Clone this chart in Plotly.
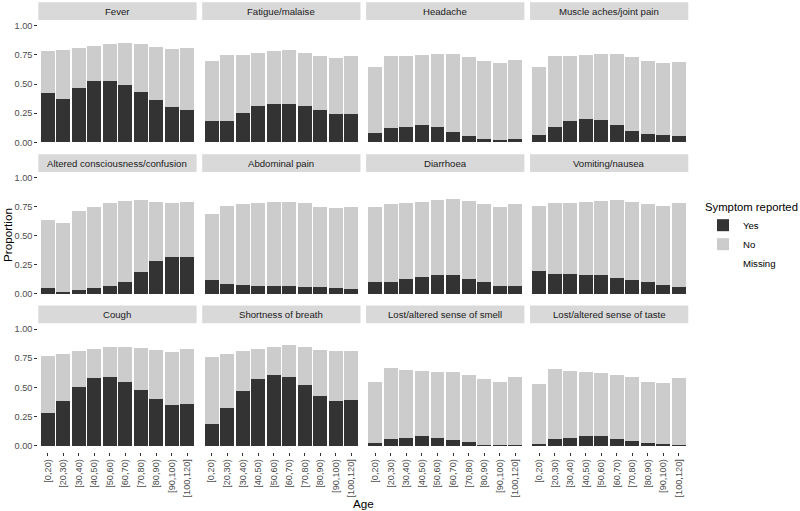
import plotly.graph_objects as go

ages = ["[0,20)", "[20,30)", "[30,40)", "[40,50)", "[50,60)", "[60,70)",
        "[70,80)", "[80,90)", "[90,100)", "[100,120]"]

symptoms = ["Fever", "Fatigue/malaise", "Headache", "Muscle aches/joint pain",
            "Altered consciousness/confusion", "Abdominal pain", "Diarrhoea", "Vomiting/nausea",
            "Cough", "Shortness of breath", "Lost/altered sense of smell", "Lost/altered sense of taste"]

fever_yes = [0.42, 0.37, 0.47, 0.53, 0.53, 0.49, 0.43, 0.36, 0.30, 0.28]
fever_no = [0.36, 0.42, 0.34, 0.30, 0.31, 0.36, 0.41, 0.46, 0.50, 0.53]
fatigue_yes = [0.18, 0.18, 0.25, 0.31, 0.33, 0.33, 0.31, 0.28, 0.24, 0.24]
fatigue_no = [0.52, 0.57, 0.50, 0.46, 0.45, 0.46, 0.46, 0.46, 0.48, 0.50]
headache_yes = [0.08, 0.12, 0.13, 0.15, 0.13, 0.09, 0.05, 0.03, 0.02, 0.03]
headache_no = [0.57, 0.62, 0.61, 0.60, 0.63, 0.67, 0.68, 0.67, 0.66, 0.68]
muscle_yes = [0.06, 0.13, 0.18, 0.20, 0.19, 0.15, 0.10, 0.07, 0.06, 0.05]
muscle_no = [0.59, 0.61, 0.56, 0.55, 0.57, 0.61, 0.63, 0.63, 0.62, 0.64]
confusion_yes = [0.05, 0.02, 0.03, 0.05, 0.07, 0.10, 0.19, 0.28, 0.32, 0.32]
confusion_no = [0.59, 0.59, 0.68, 0.70, 0.71, 0.70, 0.62, 0.51, 0.46, 0.47]
abdominal_yes = [0.12, 0.09, 0.08, 0.07, 0.07, 0.07, 0.06, 0.06, 0.05, 0.04]
abdominal_no = [0.57, 0.67, 0.69, 0.71, 0.72, 0.72, 0.72, 0.69, 0.69, 0.71]
diarrhoea_yes = [0.10, 0.10, 0.13, 0.15, 0.16, 0.16, 0.13, 0.10, 0.07, 0.07]
diarrhoea_no = [0.65, 0.67, 0.65, 0.64, 0.65, 0.66, 0.67, 0.67, 0.68, 0.70]
vomiting_yes = [0.20, 0.17, 0.17, 0.16, 0.16, 0.14, 0.12, 0.10, 0.08, 0.06]
vomiting_no = [0.56, 0.61, 0.61, 0.63, 0.64, 0.67, 0.67, 0.67, 0.68, 0.72]
cough_yes = [0.28, 0.38, 0.50, 0.58, 0.59, 0.55, 0.48, 0.40, 0.35, 0.36]
cough_no = [0.49, 0.41, 0.31, 0.25, 0.26, 0.30, 0.36, 0.42, 0.45, 0.47]
breath_yes = [0.19, 0.32, 0.47, 0.57, 0.61, 0.59, 0.52, 0.43, 0.38, 0.39]
breath_no = [0.57, 0.47, 0.34, 0.26, 0.24, 0.27, 0.33, 0.39, 0.43, 0.42]
smell_yes = [0.02, 0.06, 0.07, 0.08, 0.07, 0.05, 0.03, 0.01, 0.006, 0.003]
smell_no = [0.53, 0.61, 0.58, 0.56, 0.56, 0.58, 0.58, 0.56, 0.544, 0.587]
taste_yes = [0.014, 0.06, 0.07, 0.08, 0.08, 0.06, 0.04, 0.02, 0.014, 0.006]
taste_no = [0.516, 0.60, 0.57, 0.55, 0.54, 0.55, 0.55, 0.53, 0.526, 0.574]

yes_series = [fever_yes, fatigue_yes, headache_yes, muscle_yes,
              confusion_yes, abdominal_yes, diarrhoea_yes, vomiting_yes,
              cough_yes, breath_yes, smell_yes, taste_yes]
no_series = [fever_no, fatigue_no, headache_no, muscle_no,
             confusion_no, abdominal_no, diarrhoea_no, vomiting_no,
             cough_no, breath_no, smell_no, taste_no]

W, H = 800, 511
col_px = [(38.3, 196.6), (202.2, 360.5), (366.1, 524.4), (530.0, 688.3)]
row_px = [(19.9, 148.1), (171.9, 299.8), (323.2, 451.5)]
strip_h = 17.6

FONT = "Liberation Sans, Arial, sans-serif"
C_YES, C_NO, C_MISS = "#333333", "#CCCCCC", "#FFFFFF"
SMALL = 9.6
TICK = 9.2

fig = go.Figure()
layout = {}
shapes = []
annotations = []

for i, name in enumerate(symptoms):
    r, c = divmod(i, 4)
    idx = i + 1
    xa = "x" if idx == 1 else f"x{idx}"
    ya = "y" if idx == 1 else f"y{idx}"
    yes = yes_series[i]
    no = no_series[i]
    missing = [round(1 - a - b, 4) for a, b in zip(yes, no)]
    for label, vals, col in (("Yes", yes, C_YES), ("No", no, C_NO), ("Missing", missing, C_MISS)):
        fig.add_trace(go.Bar(
            x=ages, y=vals, name=label,
            marker=dict(color=col, line=dict(width=0)),
            xaxis=xa, yaxis=ya, showlegend=(i == 0), legendgroup=label,
        ))
    x0, x1 = col_px[c]
    y0, y1 = row_px[r]
    dx = [x0 / W, x1 / W]
    dy = [1 - y1 / H, 1 - y0 / H]
    layout["xaxis" if idx == 1 else f"xaxis{idx}"] = dict(
        domain=dx, anchor=ya, type="category", range=[-0.6, 9.6], automargin=False,
        showgrid=False, zeroline=False, showline=False,
        showticklabels=(r == 2), ticks="outside" if r == 2 else "",
        ticklen=3, tickcolor="#333333", tickwidth=1, tickangle=-90,
        tickfont=dict(size=TICK, color="#4D4D4D", family=FONT),
        categoryorder="array", categoryarray=ages,
    )
    layout["yaxis" if idx == 1 else f"yaxis{idx}"] = dict(
        domain=dy, anchor=xa, range=[-0.05, 1.05], automargin=False,
        tickvals=[0, 0.25, 0.5, 0.75, 1.0], tickformat=".2f",
        showgrid=False, zeroline=False, showline=False,
        showticklabels=(c == 0), ticks="outside" if c == 0 else "",
        ticklen=3, tickcolor="#333333", tickwidth=1,
        tickfont=dict(size=TICK, color="#4D4D4D", family=FONT),
    )
    shapes.append(dict(type="rect", xref="paper", yref="paper",
                       x0=x0 / W, x1=x1 / W, y0=1 - y0 / H, y1=1 - (y0 - strip_h) / H,
                       fillcolor="#D9D9D9", line=dict(width=0), layer="below"))
    annotations.append(dict(text=name, xref="paper", yref="paper",
                            x=(x0 + x1) / 2 / W, y=1 - (y0 - strip_h / 2) / H,
                            showarrow=False, xanchor="center", yanchor="middle",
                            font=dict(size=SMALL, color="#1A1A1A", family=FONT)))

annotations.append(dict(text="Proportion", xref="paper", yref="paper",
                        x=7.5 / W, y=1 - 235.5 / H, textangle=-90, showarrow=False,
                        xanchor="center", yanchor="middle",
                        font=dict(size=11.7, color="#000000", family=FONT)))
annotations.append(dict(text="Age", xref="paper", yref="paper",
                        x=363 / W, y=1 - 503 / H, showarrow=False,
                        xanchor="center", yanchor="middle",
                        font=dict(size=11.7, color="#000000", family=FONT)))

fig.update_layout(
    width=W, height=H, margin=dict(l=0, r=0, t=0, b=0, autoexpand=False),
    paper_bgcolor="white", plot_bgcolor="white",
    barmode="stack", bargap=0.1,
    shapes=shapes, annotations=annotations,
    legend=dict(title=dict(text="Symptom reported", font=dict(size=11.3, color="#000000", family=FONT)),
                x=703 / W, y=1 - 196 / H, xanchor="left", yanchor="top",
                traceorder="normal", font=dict(size=SMALL, color="#000000", family=FONT),
                bgcolor="rgba(0,0,0,0)", tracegroupgap=0),
    font=dict(family=FONT),
    **layout,
)

fig.write_html("out.html", config={"displayModeBar": False},
               post_script="document.body.style.margin='0';document.body.style.padding='0';")
